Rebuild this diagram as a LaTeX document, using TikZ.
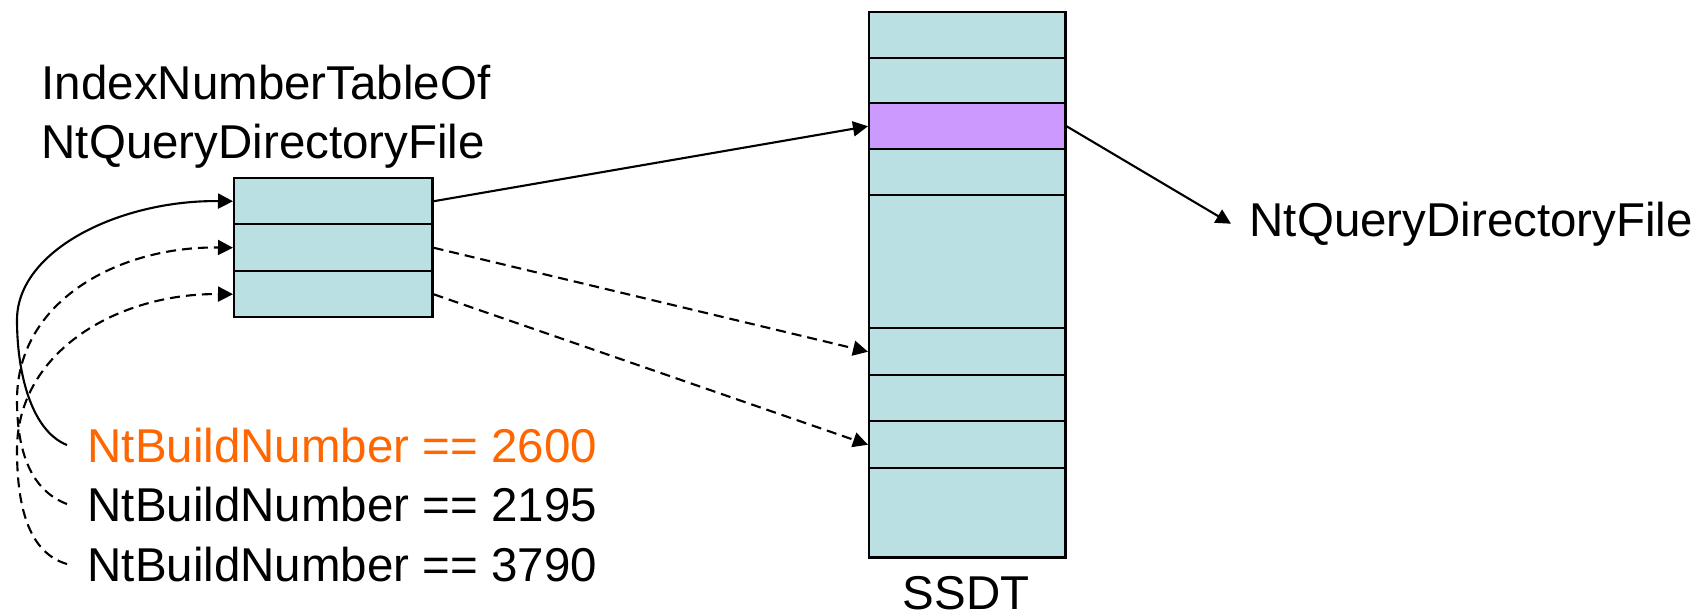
\documentclass[tikz,border=0pt]{standalone}
\usepackage{fontspec}
\setmainfont{Liberation Sans}
\usetikzlibrary{arrows.meta}
\definecolor{cellblue}{RGB}{187,224,227}
\definecolor{cellpurple}{RGB}{204,153,255}
\definecolor{buildorange}{RGB}{255,102,0}
\tikzset{cell/.style={draw,fill=cellblue,line width=0.7pt,inner sep=0pt,anchor=north west},
lbl/.style={font=\fontsize{13.5}{16.5}\selectfont,inner sep=0pt,anchor=base west},
tip/.style={-{Triangle[length=1.5mm,width=1.5mm]},line width=0.6pt},
dsh/.style={dash pattern=on 1mm off 0.6mm}}
\begin{document}
\begin{tikzpicture}[x=0.01cm,y=-0.01cm]
\useasboundingbox (0,0) rectangle (1706,615);
\foreach \i/\t/\b in {1/177/223,2/223/270,3/270/316}{\pgfmathsetmacro{\h}{(\b-\t)/100}\node[cell,minimum width=1.98cm,minimum height=\h cm] (idx\i) at (233,\t) {};}
\foreach \i/\t/\b/\c in {1/11/57/cellblue,2/57/102/cellblue,3/102/148/cellpurple,4/148/194/cellblue,5/194/327/cellblue,6/327/374/cellblue,7/374/420/cellblue,8/420/467/cellblue,9/467/556/cellblue}{\pgfmathsetmacro{\h}{(\b-\t)/100}\node[cell,fill=\c,minimum width=1.96cm,minimum height=\h cm] (ssdt\i) at (868,\t) {};}
\node[lbl,align=left] (tblname) at (41,158) {IndexNumberTableOf\\NtQueryDirectoryFile};
\node[lbl,text=buildorange] (b2600) at (87,462) {NtBuildNumber == 2600};
\node[lbl] (b2195) at (87,521) {NtBuildNumber == 2195};
\node[lbl] (b3790) at (87,581) {NtBuildNumber == 3790};
\node[lbl] (qdf) at (1249,236) {NtQueryDirectoryFile};
\node[lbl,anchor=base] (ssdtname) at (966,609) {SSDT};
\draw[tip] (idx1.east) -- (ssdt3.west);
\draw[tip,dsh] (idx2.east) -- (ssdt6.west);
\draw[tip,dsh] (idx3.east) -- (ssdt8.west);
\draw[tip] (ssdt3.east) -- ([xshift=-1.8mm]qdf.west);
\draw[tip] ([xshift=-2mm]b2600.west) .. controls (30,430) and (17,370) .. (17,320) .. controls (17,250) and (120,200) .. (idx1.west);
\draw[tip,dsh] ([xshift=-2mm]b2195.west) .. controls (30,490) and (17,450) .. (17,400) .. controls (17,300) and (120,246) .. (idx2.west);
\draw[tip,dsh] ([xshift=-2mm]b3790.west) .. controls (30,553) and (17,510) .. (17,450) .. controls (17,350) and (120,293) .. (idx3.west);
\end{tikzpicture}
\end{document}
